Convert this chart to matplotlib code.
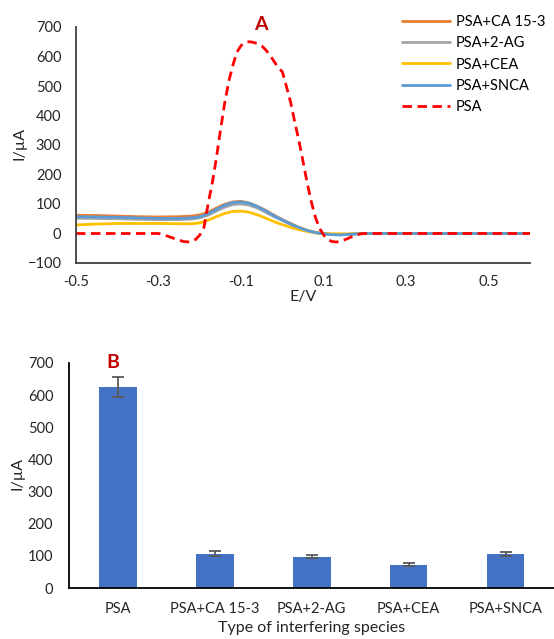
import matplotlib
matplotlib.use("Agg")
import matplotlib.pyplot as plt
import numpy as np

plt.rcParams['font.family'] = ['Lato', 'DejaVu Sans']

# ---- Panel A: differential pulse voltammograms ----
potential_psa = [-0.5, -0.3, -0.28, -0.26, -0.24, -0.225, -0.21, -0.2, -0.19, -0.18, -0.17, -0.16,
                 -0.15, -0.14, -0.13, -0.12, -0.11, -0.10, -0.09, -0.08, -0.07, -0.06, -0.05,
                 -0.04, -0.03, -0.02, -0.01, 0.0, 0.01, 0.02, 0.03, 0.04, 0.05, 0.06, 0.07,
                 0.08, 0.09, 0.10, 0.11, 0.12, 0.13, 0.14, 0.15, 0.16, 0.17, 0.18, 0.19, 0.2, 0.6]
current_psa = [0, 0, -8, -18, -27, -29, -20, -5, 20, 100, 170, 255,
               350, 440, 515, 570, 615, 637, 648, 650, 648, 643, 636,
               622, 605, 583, 563, 548, 498, 445, 378, 315, 245, 172, 108,
               55, 18, -5, -20, -27, -29, -27, -22, -16, -10, -5, -1, 0, 0]

potential_mix = [-0.5, -0.45, -0.4, -0.35, -0.3, -0.25, -0.22, -0.2, -0.18, -0.16, -0.14, -0.12,
                 -0.1, -0.08, -0.06, -0.04, -0.02, 0.0, 0.02, 0.04, 0.06, 0.08, 0.1, 0.12,
                 0.14, 0.16, 0.18, 0.2, 0.6]
current_ca153 = [62, 61, 59, 57, 56, 57, 59, 63, 72, 86, 99, 107,
                 109, 103, 92, 78, 62, 47, 34, 21, 11, 4, 0, -3,
                 -4, -3, -1, 0, 0]
current_2ag = [52, 51, 50, 48, 47, 47, 49, 53, 62, 76, 89, 98,
               100, 96, 86, 72, 57, 44, 31, 19, 10, 3, 0, -3,
               -4, -3, -1, 0, 0]
current_cea = [29, 32, 34, 34, 34, 33, 33, 36, 45, 57, 68, 75,
               76, 72, 63, 52, 40, 30, 21, 13, 7, 2, 0, -1,
               -1, -1, 0, 0, 0]
current_snca = [57, 56, 55, 53, 51, 51, 53, 57, 67, 82, 96, 105,
                107, 102, 91, 76, 60, 46, 32, 20, 10, 3, -1, -4,
                -5, -3, -1, 0, 0]

# ---- Panel B: peak currents ----
species = ['PSA', 'PSA+CA 15-3', 'PSA+2-AG', 'PSA+CEA', 'PSA+SNCA']
peak_current = [626, 107, 97, 73, 106]
peak_error = [31, 7, 5, 4, 6]

W, H = 554, 639
fig = plt.figure(figsize=(W / 100, H / 100), dpi=100)

def box(left, top, right, bottom):
    return [left / W, 1 - bottom / H, (right - left) / W, (bottom - top) / H]

tick_fs = 10.5
label_fs = 11.5
text_col = '#262626'

axA = fig.add_axes(box(76, 27, 530, 263))
axA.plot(potential_mix, current_ca153, color='#ED7D31', lw=2.0, label='PSA+CA 15-3', solid_capstyle='round')
axA.plot(potential_mix, current_2ag, color='#A5A5A5', lw=2.0, label='PSA+2-AG', solid_capstyle='round')
axA.plot(potential_mix, current_cea, color='#FFC000', lw=2.0, label='PSA+CEA', solid_capstyle='round')
axA.plot(potential_mix, current_snca, color='#5B9BD5', lw=2.0, label='PSA+SNCA', solid_capstyle='round')
axA.plot(potential_psa, current_psa, color='#FF0000', lw=2.0, ls=(0, (3.4, 2.0)), label='PSA')
axA.set_xlim(-0.5, 0.6)
axA.set_ylim(-100, 700)
axA.set_xticks([-0.5, -0.3, -0.1, 0.1, 0.3, 0.5])
axA.set_xticklabels(['-0.5', '-0.3', '-0.1', '0.1', '0.3', '0.5'])
axA.set_yticks(np.arange(-100, 701, 100))
for s in ['top', 'right']:
    axA.spines[s].set_visible(False)
for s in ['left', 'bottom']:
    axA.spines[s].set_color('#404040')
    axA.spines[s].set_linewidth(1.3)
axA.tick_params(axis='both', length=0, labelsize=tick_fs, colors=text_col)
axA.tick_params(axis='y', pad=10.5)
axA.tick_params(axis='x', pad=9)
axA.set_xlabel('E/V', fontsize=label_fs, color=text_col)
axA.set_ylabel('I/µA', fontsize=label_fs, color=text_col)
axA.xaxis.set_label_coords(0.5, (263 - 290) / 236)
axA.yaxis.set_label_coords((26 - 76) / 454, (263 - 143) / 236)
fig.text(261 / W, 1 - 25 / H, 'A', color='#C00000', fontsize=14, fontweight='bold',
         ha='center', va='center')
fig.legend(*axA.get_legend_handles_labels(), loc='upper left',
           bbox_to_anchor=(402 / W, 1 - 15 / H), frameon=False, fontsize=10.5,
           handlelength=3.3, handletextpad=0.4, labelspacing=0.5, borderaxespad=0,
           borderpad=0)

# ---- Panel B ----
axB = fig.add_axes(box(69.3, 363, 554, 588))
x = np.arange(len(species))
axB.bar(x, peak_current, width=0.39, color='#4472C4', zorder=2)
axB.errorbar(x, peak_current, yerr=peak_error, fmt='none', ecolor='#595959',
             elinewidth=1.3, capsize=4, capthick=1.3, zorder=3)
axB.set_xlim(-0.5, len(species) - 0.5)
axB.set_ylim(0, 700)
axB.set_yticks(np.arange(0, 701, 100))
axB.set_xticks(x)
axB.set_xticklabels(species)
for s in ['top', 'right']:
    axB.spines[s].set_visible(False)
for s in ['left', 'bottom']:
    axB.spines[s].set_color('#000000')
    axB.spines[s].set_linewidth(1.3)
axB.tick_params(axis='both', length=0, labelsize=tick_fs, colors=text_col)
axB.tick_params(axis='y', pad=11.5)
axB.tick_params(axis='x', pad=10)
axB.set_xlabel('Type of interfering species', fontsize=label_fs, color=text_col)
axB.set_ylabel('I/µA', fontsize=label_fs, color=text_col)
axB.xaxis.set_label_coords((312 - 69.3) / 484.7, (588 - 621) / 225)
axB.yaxis.set_label_coords((25 - 69.3) / 484.7, (588 - 473) / 225)
fig.text(113 / W, 1 - 363 / H, 'B', color='#C00000', fontsize=14, fontweight='bold',
         ha='center', va='center')

fig.savefig('out.png', dpi=100)
